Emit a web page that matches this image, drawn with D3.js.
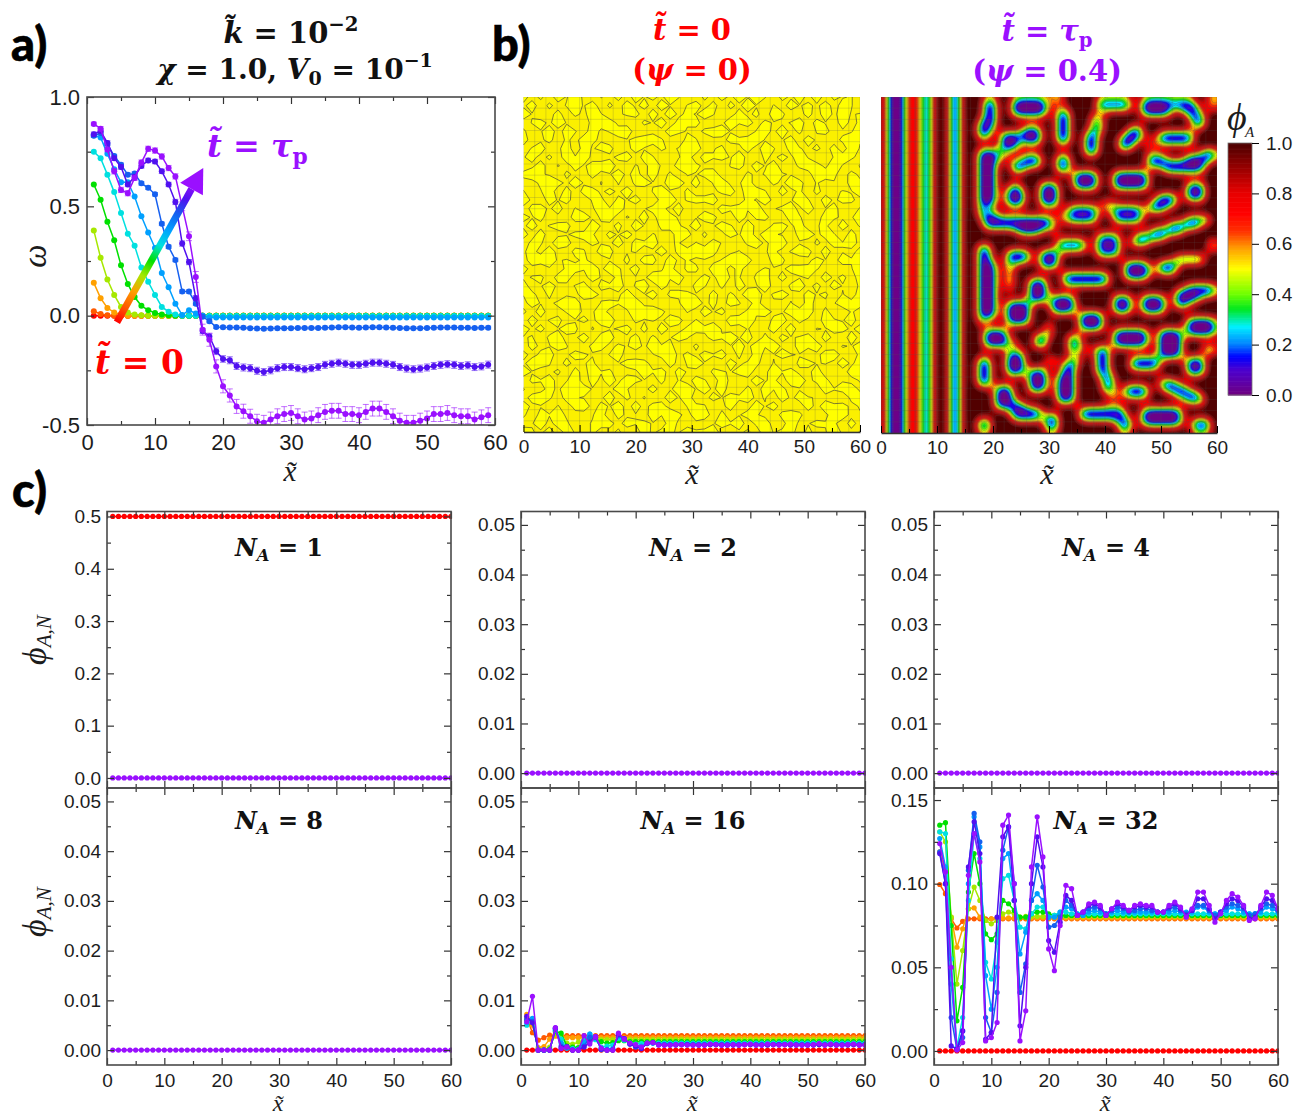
<!DOCTYPE html>
<html lang="en">
<head>
<meta charset="utf-8">
<title>Phase separation under a shear gradient</title>
<style>
  html, body { margin: 0; padding: 0; background: #fff; }
  svg { display: block; }
  text { font-family: "Liberation Sans", Arial, sans-serif; fill: #1c1c1c; }
  .tick text { font-family: "Liberation Sans", Arial, sans-serif; fill: #1c1c1c; }
  .math { font-family: "DejaVu Serif", serif; font-weight: bold; }
  .ital { font-family: "Liberation Serif", serif; font-style: italic; }
  .tag { font-family: Lato, sans-serif; font-weight: 900; font-size: 47px; fill: #000; stroke: #000; stroke-width: 0.6; }
</style>
</head>
<body>
<div id="chart"></div>
<script src="https://cdn.jsdelivr.net/npm/d3@7/dist/d3.min.js"></script>
<script>

// time steps, red (t = 0) to violet (t = tau_p)
var stepColors = ["#ff0000", "#ff5a00", "#ffa000", "#a6e800", "#00e000", "#00e0e0", "#00a0ff", "#1560f0", "#5010f0", "#9a10ff"];

var xA = [1,2,3,4,5,6,7,8,9,10,11,12,13,14,15,16,17,18,19,20,21,22,23,24,25,26,27,28,29,30,31,32,33,34,35,36,37,38,39,40,41,42,43,44,45,46,47,48,49,50,51,52,53,54,55,56,57,58,59];
var xC = [1,2,3,4,5,6,7,8,9,10,11,12,13,14,15,16,17,18,19,20,21,22,23,24,25,26,27,28,29,30,31,32,33,34,35,36,37,38,39,40,41,42,43,44,45,46,47,48,49,50,51,52,53,54,55,56,57,58,59,60];

// panel a, omega(x) at each time step
var omega0 = [0,0,0,0,0,0,0,0,0,0,0,0,0,0,0,0,0,0,0,0,0,0,0,0,0,0,0,0,0,0,0,0,0,0,0,0,0,0,0,0,0,0,0,0,0,0,0,0,0,0,0,0,0,0,0,0,0,0,0];
var omega1 = [.02,.008,.002,0,0,0,0,0,0,0,0,0,0,0,0,0,0,0,0,0,0,0,0,0,0,0,0,0,0,0,0,0,0,0,0,0,0,0,0,0,0,0,0,0,0,0,0,0,0,0,0,0,0,0,0,0,0,0,0];
var omega2 = [.15,.08,.035,.015,.005,0,0,0,0,0,0,0,0,0,0,0,0,0,0,0,0,0,0,0,0,0,0,0,0,0,0,0,0,0,0,0,0,0,0,0,0,0,0,0,0,0,0,0,0,0,0,0,0,0,0,0,0,0,0];
var omega3 = [.39,.265,.165,.095,.04,.015,.005,.002,0,0,0,0,0,0,0,0,0,0,0,0,0,0,0,0,0,0,0,0,0,0,0,0,0,0,0,0,0,0,0,0,0,0,0,0,0,0,0,0,0,0,0,0,0,0,0,0,0,0,0];
var omega4 = [.6,.53,.43,.345,.23,.145,.085,.045,.025,.012,.005,.002,0,0,0,0,0,0,0,0,0,0,0,0,0,0,0,0,0,0,0,0,0,0,0,0,0,0,0,0,0,0,0,0,0,0,0,0,0,0,0,0,0,0,0,0,0,0,0];
var omega5 = [.75,.72,.645,.565,.47,.375,.32,.22,.155,.095,.04,.018,.005,0,0,0,0,-.002,-.002,-.002,-.002,-.002,-.002,-.002,-.002,-.002,-.002,-.002,-.002,-.002,-.002,-.002,-.002,-.002,-.002,-.002,-.002,-.002,-.002,-.002,-.002,-.002,-.002,-.002,-.002,-.002,-.002,-.002,-.002,-.002,-.002,-.002,-.002,-.002,-.002,-.002,-.002,-.002,-.002];
var omega6 = [.825,.815,.74,.67,.61,.61,.545,.455,.38,.31,.195,.13,.055,.003,.025,.01,0,-.008,-.008,-.008,-.008,-.008,-.008,-.008,-.008,-.008,-.008,-.008,-.008,-.008,-.008,-.008,-.008,-.008,-.008,-.008,-.008,-.008,-.008,-.008,-.008,-.008,-.008,-.008,-.008,-.008,-.008,-.008,-.008,-.008,-.008,-.008,-.008,-.008,-.008,-.008,-.008,-.008,-.008];
var omega7 = [.823,.835,.785,.73,.69,.645,.65,.605,.585,.555,.42,.315,.255,.11,.11,.055,-.005,-.025,-.052,-.053,-.054,-.054,-.055,-.057,-.059,-.06,-.059,-.058,-.057,-.057,-.056,-.056,-.056,-.056,-.055,-.054,-.053,-.053,-.054,-.055,-.054,-.053,-.053,-.054,-.055,-.056,-.057,-.057,-.057,-.056,-.055,-.054,-.054,-.054,-.055,-.055,-.056,-.055,-.055];
var omega8 = [.83,.845,.79,.72,.68,.6,.635,.685,.71,.705,.66,.6,.52,.33,.245,.08,-.07,-.095,-.163,-.198,-.204,-.23,-.237,-.24,-.252,-.258,-.25,-.24,-.235,-.235,-.24,-.245,-.24,-.235,-.225,-.22,-.215,-.22,-.225,-.225,-.22,-.215,-.215,-.22,-.225,-.235,-.242,-.245,-.242,-.237,-.23,-.225,-.222,-.225,-.23,-.227,-.235,-.232,-.224];
var omega9 = [.877,.855,.76,.66,.575,.56,.63,.7,.763,.755,.728,.675,.637,.5,.363,.177,-.064,-.11,-.232,-.323,-.365,-.415,-.437,-.46,-.483,-.49,-.475,-.46,-.45,-.445,-.46,-.475,-.47,-.455,-.44,-.435,-.435,-.45,-.45,-.455,-.44,-.425,-.425,-.44,-.46,-.48,-.49,-.49,-.48,-.47,-.45,-.45,-.445,-.455,-.46,-.46,-.475,-.465,-.455];

// error bars of the last three steps (half widths)
var omegaErr7 = [.008,.008,.008,.008,.008,.008,.008,.008,.008,.008,.008,.008,.008,.008,.008,.008,.008,.008,.007,.007,.007,.007,.007,.007,.007,.007,.007,.007,.007,.007,.007,.007,.007,.007,.007,.007,.007,.007,.007,.007,.007,.007,.007,.007,.007,.007,.007,.007,.007,.007,.007,.007,.007,.007,.007,.007,.007,.007,.007];
var omegaErr8 = [.01,.01,.01,.01,.01,.01,.01,.01,.01,.01,.01,.01,.012,.012,.012,.012,.012,.012,.015,.015,.016,.016,.016,.016,.016,.016,.016,.016,.016,.016,.016,.016,.016,.016,.016,.016,.016,.016,.016,.016,.016,.016,.016,.016,.016,.016,.016,.016,.016,.016,.016,.016,.016,.016,.016,.016,.016,.016,.016];
var omegaErr9 = [.008,.01,.01,.012,.012,.012,.012,.012,.012,.012,.012,.012,.012,.02,.02,.025,.025,.03,.03,.03,.03,.032,.032,.032,.032,.034,.034,.034,.034,.034,.034,.034,.034,.034,.034,.034,.034,.034,.034,.034,.034,.034,.034,.034,.034,.034,.034,.034,.034,.034,.034,.034,.034,.034,.034,.034,.034,.034,.034];

// panels N_A = 1, 2, 4, 8
var phiHalf = [.5,.5,.5,.5,.5,.5,.5,.5,.5,.5,.5,.5,.5,.5,.5,.5,.5,.5,.5,.5,.5,.5,.5,.5,.5,.5,.5,.5,.5,.5,.5,.5,.5,.5,.5,.5,.5,.5,.5,.5,.5,.5,.5,.5,.5,.5,.5,.5,.5,.5,.5,.5,.5,.5,.5,.5,.5,.5,.5,.5];
var phiZero = [0,0,0,0,0,0,0,0,0,0,0,0,0,0,0,0,0,0,0,0,0,0,0,0,0,0,0,0,0,0,0,0,0,0,0,0,0,0,0,0,0,0,0,0,0,0,0,0,0,0,0,0,0,0,0,0,0,0,0,0];

// panel N_A = 16
var n16_1 = [.0065,.0035,.002,.0025,.003,.003,.0029,.0029,.0029,.0029,.0029,.0029,.0029,.0029,.0029,.0029,.0029,.0029,.0029,.0029,.0029,.0029,.0029,.0029,.0029,.0029,.0029,.0029,.0029,.0029,.0029,.0029,.0029,.0029,.0029,.0029,.0029,.0029,.0029,.0029,.0029,.0029,.0029,.0029,.0029,.0029,.0029,.0029,.0029,.0029,.0029,.0029,.0029,.0029,.0029,.0029,.0029,.0029,.0029,.0029];
var n16_2 = [.0072,.005,.0005,.0007,.0022,.0028,.0027,.0025,.0025,.0025,.0025,.0025,.0025,.0025,.0025,.0025,.0025,.0025,.0025,.0025,.0025,.0025,.0025,.0025,.0025,.0025,.0025,.0025,.0025,.0025,.0025,.0025,.0025,.0025,.0025,.0025,.0025,.0025,.0025,.0025,.0025,.0025,.0025,.0025,.0025,.0025,.0025,.0025,.0025,.0025,.0025,.0025,.0025,.0025,.0025,.0025,.0025,.0025,.0025,.0025];
var n16_3 = [.0065,.0055,.0002,0,.0006,.0034,.0026,.0014,.0012,.0016,.0021,.0023,.0023,.0021,.0021,.0021,.0021,.0021,.0021,.0021,.0021,.0021,.0021,.0021,.0021,.0021,.0021,.0021,.0021,.0021,.0021,.0021,.0021,.0021,.0021,.0021,.0021,.0021,.0021,.0021,.0021,.0021,.0021,.0021,.0021,.0021,.0021,.0021,.0021,.0021,.0021,.0021,.0021,.0021,.0021,.0021,.0021,.0021,.0021,.0021];
var n16_4 = [.006,.006,0,0,.0002,.0038,.0034,.0008,.0006,.0005,.0018,.0024,.0022,.0017,.0014,.0015,.0019,.0019,.0017,.0017,.0017,.0017,.0017,.0017,.0017,.0017,.0017,.0017,.0017,.0017,.0017,.0017,.0017,.0017,.0017,.0017,.0017,.0017,.0017,.0017,.0017,.0017,.0017,.0017,.0017,.0017,.0017,.0017,.0017,.0017,.0017,.0017,.0017,.0017,.0017,.0017,.0017,.0017,.0017,.0017];
var n16_5 = [.005,.0062,0,0,0,.004,.0022,.0004,.0003,.0002,.002,.0032,.0021,.0006,.0008,.001,.0024,.002,.0014,.0012,.0013,.0014,.0014,.0014,.0014,.0014,.0014,.0014,.0014,.0014,.0014,.0014,.0014,.0014,.0014,.0014,.0014,.0014,.0014,.0014,.0014,.0014,.0014,.0014,.0014,.0014,.0014,.0014,.0014,.0014,.0014,.0014,.0014,.0014,.0014,.0014,.0014,.0014,.0014,.0014];
var n16_6 = [.0055,.0064,0,0,0,.0042,.0014,.0004,.0001,.0001,.0016,.0032,.0024,.0003,.0002,.0003,.0028,.0022,.0013,.0008,.0008,.0013,.0014,.0012,.0012,.0012,.0012,.0012,.0012,.0012,.0012,.0012,.0012,.0012,.0012,.0012,.0012,.0012,.0012,.0012,.0012,.0012,.0012,.0012,.0012,.0012,.0012,.0012,.0012,.0012,.0012,.0012,.0012,.0012,.0012,.0012,.0012,.0012,.0012,.0012];
var n16_7 = [.0062,.0058,0,0,0,.0044,.0008,.0006,0,0,.0008,.0026,.0026,.0001,0,.0001,.003,.0023,.0012,.0006,.0004,.0013,.0015,.0011,.0011,.0011,.0011,.0011,.0011,.0011,.0011,.0011,.0011,.0011,.0011,.0011,.0011,.0011,.0011,.0011,.0011,.0011,.0011,.0011,.0011,.0011,.0011,.0011,.0011,.0011,.0011,.0011,.0011,.0011,.0011,.0011,.0011,.0011,.0011,.0011];
var n16_8 = [.0068,.0055,0,0,0,.0044,.0005,.0007,0,0,.0006,.0016,.0027,.0002,0,0,.0032,.0023,.0012,.0008,.0003,.0014,.0015,.0011,.001,.001,.001,.0011,.0011,.001,.001,.001,.0011,.0011,.001,.001,.001,.001,.0011,.0011,.001,.001,.001,.0011,.0011,.0011,.001,.001,.001,.001,.001,.0011,.001,.0011,.001,.001,.001,.0011,.001,.001];
var n16_9 = [.0057,.0108,0,0,0,.0045,.0003,.0006,0,0,.0029,.0012,.0027,.0004,0,0,.0034,.0022,.0014,.0011,.0006,.0014,.0015,.001,.001,.001,.0011,.0011,.001,.001,.001,.001,.0012,.0011,.001,.001,.0011,.001,.0011,.0012,.001,.001,.0012,.0011,.001,.0011,.0012,.001,.001,.001,.0011,.0013,.001,.0012,.001,.001,.0011,.0012,.001,.001];

// panel N_A = 32
var n32_1 = [.0995,.094,.079,.0735,.0775,.079,.079,.079,.079,.079,.079,.079,.079,.079,.079,.079,.079,.079,.079,.079,.079,.079,.079,.079,.079,.079,.079,.079,.079,.079,.079,.079,.079,.079,.079,.079,.079,.079,.079,.079,.079,.079,.079,.079,.079,.079,.079,.079,.079,.079,.079,.079,.079,.079,.079,.079,.079,.079,.079,.079];
var n32_2 = [.119,.108,.08,.062,.073,.085,.0855,.08,.078,.079,.0795,.0795,.0795,.0795,.0795,.0795,.0795,.0795,.0795,.0795,.0795,.0795,.0795,.0795,.0795,.0795,.0795,.0795,.0795,.0795,.0795,.0795,.0795,.0795,.0795,.0795,.0795,.0795,.0795,.0795,.0795,.0795,.0795,.0795,.0795,.0795,.0795,.0795,.0795,.0795,.0795,.0795,.0795,.0795,.0795,.0795,.0795,.0795,.0795,.0795];
var n32_3 = [.131,.125,.08,.04,.06,.085,.098,.09,.078,.076,.078,.082,.083,.082,.08,.0805,.0805,.0805,.0805,.0805,.0805,.0805,.0805,.0805,.0805,.0805,.0805,.0805,.0805,.0805,.0805,.0805,.0805,.0805,.0805,.0805,.0805,.0805,.0805,.0805,.0805,.0805,.0805,.0805,.0805,.0805,.0805,.0805,.0805,.0805,.0805,.0805,.0805,.0805,.0805,.0805,.0805,.0805,.0805,.0805];
var n32_4 = [.135,.1365,.075,.018,.038,.095,.118,.1,.07,.0665,.07,.09,.088,.084,.08,.08,.082,.083,.083,.082,.081,.081,.081,.081,.081,.081,.081,.081,.081,.081,.081,.081,.081,.081,.081,.081,.081,.081,.081,.081,.081,.081,.081,.081,.081,.081,.081,.081,.081,.081,.081,.081,.081,.081,.081,.081,.081,.081,.081,.081];
var n32_5 = [.131,.13,.055,.002,.02,.09,.13,.115,.053,.043,.065,.103,.105,.09,.074,.073,.082,.086,.086,.08,.081,.083,.083,.082,.082,.082,.082,.082,.082,.082,.082,.082,.082,.082,.082,.082,.082,.082,.082,.082,.082,.082,.082,.082,.082,.082,.082,.082,.082,.082,.082,.082,.082,.082,.082,.082,.082,.082,.082,.082];
var n32_6 = [.127,.11,.04,.001,.012,.1,.14,.122,.045,.025,.05,.115,.118,.09,.058,.071,.09,.094,.09,.08,.08,.083,.086,.085,.082,.081,.083,.084,.083,.082,.083,.084,.083,.083,.083,.083,.083,.083,.083,.083,.083,.084,.083,.083,.083,.086,.086,.083,.082,.083,.084,.086,.085,.083,.082,.082,.083,.086,.085,.083];
var n32_7 = [.119,.1,.02,.001,.008,.108,.142,.125,.02,.011,.035,.12,.134,.1,.035,.052,.09,.111,.098,.074,.075,.08,.09,.087,.081,.083,.085,.086,.085,.082,.084,.086,.085,.083,.084,.085,.085,.084,.083,.083,.085,.086,.084,.082,.084,.087,.087,.084,.081,.083,.086,.088,.087,.085,.081,.082,.085,.088,.087,.084];
var n32_8 = [.118,.1,.003,.001,.012,.11,.137,.118,.007,.011,.08,.128,.134,.09,.015,.05,.1,.128,.11,.066,.059,.077,.093,.09,.081,.083,.087,.088,.086,.081,.085,.088,.086,.084,.086,.087,.086,.086,.083,.083,.086,.088,.085,.081,.084,.091,.091,.085,.079,.083,.088,.091,.09,.086,.079,.08,.086,.091,.09,.085];
var n32_9 = [.124,.107,.05,.0005,.005,.105,.13,.113,.006,.008,.017,.135,.141,.1,.006,.024,.11,.14,.116,.061,.048,.075,.099,.097,.081,.083,.088,.089,.087,.081,.085,.089,.087,.084,.087,.088,.087,.087,.083,.083,.087,.089,.086,.08,.085,.095,.095,.087,.077,.082,.09,.094,.092,.087,.078,.079,.087,.095,.093,.085];

var ticksA = [0, 10, 20, 30, 40, 50, 60];
var ticksOmega = [-0.5, 0, 0.5, 1];
var ticksPhi1 = [0, 0.1, 0.2, 0.3, 0.4, 0.5];
var ticksPhiSmall = [0, 0.01, 0.02, 0.03, 0.04, 0.05];
var ticksPhi32 = [0, 0.05, 0.1, 0.15];
var ticksBar = [0, 0.2, 0.4, 0.6, 0.8, 1];

// panel b right, t = tau_p. Vertical stripes near the wall, value at each column (x 0..17)
var stripeColumns = [8,8,0,0,0,7,7,7,1,1,9,9,9,0,0,9,9,9];

// purple domains: [rowFrom, rowTo, colFrom, colTo, level 0-9]
var domains = [
  [1,5,19,20,0],[5,7,18,19,0],[1,3,24,29,0],[3,8,32,33,0],[1,2,39,44,1],[4,6,38,39,2],[7,10,37,38,0],
  [11,13,32,33,0],[10,19,18,20,0],[19,21,18,18,2],[7,9,22,24,0],[7,7,25,25,2],[6,8,26,28,0],
  [12,13,24,25,0],[11,12,26,28,0],[16,16,24,24,0],[17,19,23,25,0],[16,19,29,31,0],[14,16,35,38,0],
  [6,6,45,46,0],[7,7,44,46,0],[8,8,43,45,0],[9,9,43,44,0],[14,16,42,47,0],[1,3,47,51,0],[1,1,52,55,1],
  [2,2,53,56,0],[3,3,55,56,0],[4,5,56,57,0],[7,8,50,55,0],[11,12,48,50,0],[12,13,51,54,0],[11,13,55,57,0],
  [18,18,50,52,0],[19,19,49,52,0],[20,20,48,50,0],[16,18,55,57,0],[10,11,58,59,0],[20,22,34,38,1],
  [20,22,42,46,1],[22,22,55,58,0],[23,23,52,56,0],[24,24,49,53,0],[25,25,46,50,0],[26,26,45,47,1],
  [21,21,18,20,1],[22,23,19,30,0],[24,24,25,28,0],[25,28,39,42,1],[26,27,32,36,1],[27,29,18,19,0],
  [30,39,18,20,0],[28,29,23,26,0],[28,30,29,31,0],[29,29,53,57,0],[30,34,23,23,2],[33,36,27,29,0],
  [37,40,23,26,0],[36,38,31,34,0],[32,33,33,40,0],[39,41,36,39,0],[36,38,42,44,0],[30,32,44,47,0],
  [36,38,47,50,0],[30,31,50,52,0],[34,34,55,59,1],[35,35,53,59,0],[36,36,53,56,0],[37,37,53,54,0],
  [40,42,55,59,0],[42,44,42,47,0],[42,46,50,53,0],[42,44,19,22,0],[41,42,30,30,2],[43,44,28,29,0],
  [43,45,34,35,1],[47,47,34,35,1],[48,49,33,34,0],[50,54,32,34,0],[45,49,39,40,0],[50,52,40,41,1],
  [47,48,45,49,0],[47,49,55,57,0],[45,45,58,59,0],[47,51,18,19,0],[46,49,23,25,0],[49,52,27,29,0],
  [52,55,21,23,0],[55,55,22,25,0],[56,57,24,28,0],[52,53,44,47,0],[51,51,50,52,0],[52,52,51,54,0],
  [53,53,53,56,0],[54,54,55,57,0],[56,57,36,43,0],[56,58,47,53,0],[58,59,56,58,0],[57,59,30,31,0],
  [58,59,18,19,0],[58,59,43,44,0],[0,2,59,59,2],[26,27,59,59,2],
  // yellow and orange junctions
  [10,11,21,22,4],[7,7,16,16,4],[0,1,31,32,4],[19,20,40,41,4],[8,9,48,48,4],[21,22,32,33,5],
  [24,24,31,31,4],[47,47,31,31,4],[45,45,37,37,4],[53,54,41,42,5],[55,55,16,17,3],[31,31,48,48,4],
  [40,40,18,18,3],[44,44,23,24,3],[47,47,30,30,3]
];

// panel b left, t = 0. phi around 0.5 on a coarse grid, digit 0-9 (4.5 is the contour)
var noiseRows = [
  "7261849305 2718463950 1627384950 7382916450",
  "3816257490 6193728405 8271639405 1946382750",
  "9402716385 0457182936 4950273618 6027193845",
  "1573940268 8320649175 7103958264 3581740926",
  "6048275193 5791032864 2689410573 9260571348",
  "8137062954 1346985207 5032768941 4719302685",
  "2590381746 7028416359 9146037285 0853627194",
  "4726195830 3691750248 1857492063 7394015862",
  "0381527469 9205374186 6320581947 2168739405",
  "7954063182 4837291605 4791206358 5402986173",
  "1268739405 0516843792 8059347216 3971524086",
  "5049172683 7392058416 2436819750 8260713549",
  "9317480256 1648207935 7590126483 1485093762",
  "2683905147 5920476381 0318675924 6739248015",
  "6470218935 8153729640 4862093571 0952186347",
  "3825671094 2709416853 9147528306 7381460925",
  "8190346752 6482053197 1603749285 4269375081",
  "0752981364 3917682450 5284016937 9140628573",
  "4639207518 7045139268 8971350246 2587091436",
  "1987453620 4261870935 3425968017 6013742859",
  "7204168593 9538024716 6098271354 3876520149",
  "3561790284 1704396582 2739450681 8145093627",
  "9048325716 6825917340 7516083492 0692718435",
  "5716042983 0392481657 4081629735 9327460518",
  "2843679105 7569320148 9362751804 1508234976",
  "6190258347 3147896205 1847026593 4789162053",
  "0925714638 8206453971 5230987416 7263095481",
  "8371496052 4581709326 8694215037 2910546738",
  "4506823917 9037162485 0375948162 6458173092",
  "1734950268 2648395701 6102473859 3096821547",
  "7269038541 5810247936 3758160924 8540379216",
  "3985172460 1479630825 9421836705 0167452938",
  "9413607285 6023958174 2065479138 5732904186",
  "0658249173 8396417052 7518302946 1983670425",
  "5127396840 3750281469 4839016275 6240185793",
  "2796085413 9162503748 1274968350 9375421068",
  "8340517926 4918276305 6503712849 0418296735",
  "6075932148 0734195862 8916247530 7561038924",
  "1492860357 7285640931 3047591682 2934756081",
  "9538174062 2601837549 5782036194 6807149325"
];

var width = 1296, height = 1117;
var svg = d3.select("#chart").append("svg").attr("width", width).attr("height", height);
var defs = svg.append("defs");

var clipCount = 0;

// draws ticks pointing inward on all four sides plus the frame
function frame(box, x, y, xMajor, xMinor, yMajor, yMinor, yFormat, fontSize, yPad) {
  var g = svg.append("g").attr("class", "frame");
  function ax(gen, tx, ty, major, minor, labels, pad) {
    var a = g.append("g").attr("transform", "translate(" + tx + "," + ty + ")");
    a.call(gen.tickValues(minor).tickSizeInner(-4).tickSizeOuter(0).tickFormat(""));
    a.selectAll(".domain").remove();
    var b = g.append("g").attr("transform", "translate(" + tx + "," + ty + ")");
    b.call(gen.tickValues(major).tickSizeInner(-7).tickSizeOuter(0).tickPadding(pad).tickFormat(labels || ""));
    b.selectAll(".domain").remove();
    g.selectAll("line").attr("stroke", "#333").attr("stroke-width", 1.2);
    b.selectAll("text").style("font-size", fontSize + "px");
  }
  ax(d3.axisBottom(x), 0, box.y1, xMajor, xMinor, d3.format("d"), 9);
  ax(d3.axisLeft(y), box.x0, 0, yMajor, yMinor, yFormat, yPad);
  ax(d3.axisRight(y), box.x1, 0, yMajor, yMinor, null, 9);
  ax(d3.axisTop(x), 0, box.y0, xMajor, xMinor, null, 9);
  g.append("rect").attr("x", box.x0).attr("y", box.y0).attr("width", box.x1 - box.x0).attr("height", box.y1 - box.y0)
    .attr("fill", "none").attr("stroke", "#4a4a4a").attr("stroke-width", 1.6);
  return g;
}

function plotSeries(box, xs, list, colors, x, y, radius, errs) {
  var id = "clip" + (clipCount++);
  defs.append("clipPath").attr("id", id).append("rect")
    .attr("x", box.x0).attr("y", box.y0).attr("width", box.x1 - box.x0 + 1).attr("height", box.y1 - box.y0);
  var g = svg.append("g").attr("clip-path", "url(#" + id + ")");
  var line = d3.line().x(function(d, i) { return x(xs[i]); }).y(function(d) { return y(d); });
  list.forEach(function(vals, k) {
    var color = colors[k];
    if (errs && errs[k]) {
      var e = g.append("g").attr("stroke", color).attr("stroke-opacity", 0.6).attr("stroke-width", 1);
      vals.forEach(function(v, i) {
        var px = x(xs[i]), hi = y(v + errs[k][i]), lo = y(v - errs[k][i]);
        e.append("line").attr("x1", px).attr("x2", px).attr("y1", hi).attr("y2", lo);
        e.append("line").attr("x1", px - 3).attr("x2", px + 3).attr("y1", hi).attr("y2", hi);
        e.append("line").attr("x1", px - 3).attr("x2", px + 3).attr("y1", lo).attr("y2", lo);
      });
    }
    g.append("path").datum(vals).attr("d", line).attr("fill", "none").attr("stroke", color).attr("stroke-width", 1.5);
    g.selectAll(null).data(vals).enter().append("circle")
      .attr("cx", function(d, i) { return x(xs[i]); })
      .attr("cy", function(d) { return y(d); })
      .attr("r", radius).attr("fill", color);
  });
}

// text made of runs: {t, i: italic, up, down}
function mathText(cx, cy, runs, size, color, anchor) {
  var t = svg.append("text").attr("class", "math").attr("x", cx).attr("y", cy)
    .attr("text-anchor", anchor || "middle").style("font-size", size + "px").style("fill", color);
  var shift = 0;
  runs.forEach(function(r) {
    var s = t.append("tspan").text(r.t);
    if (r.i) s.style("font-style", "italic");
    var target = r.up ? -size * 0.42 : (r.down ? size * 0.22 : 0);
    s.attr("dy", target - shift);
    shift = target;
    if (r.up || r.down) s.style("font-size", (size * 0.68) + "px");
  });
  return t;
}

function xTilde(cx, cy, size) {
  svg.append("text").attr("class", "ital").attr("x", cx).attr("y", cy).attr("text-anchor", "middle")
    .style("font-size", size + "px").text("x\u0303");
}

function yTitle(cx, cy, main, sub, size) {
  var t = svg.append("text").attr("class", "ital")
    .attr("transform", "translate(" + cx + "," + cy + ") rotate(-90)")
    .attr("text-anchor", "middle").style("font-size", size + "px");
  t.append("tspan").text(main);
  if (sub) t.append("tspan").attr("dy", 5).style("font-size", (size * 0.62) + "px").text(sub);
}

// ---------- panel a ----------
var boxA = {x0: 87, x1: 495, y0: 97, y1: 425};
var xScaleA = d3.scaleLinear().domain([0, 60]).range([boxA.x0, boxA.x1]);
var yScaleA = d3.scaleLinear().domain([-0.5, 1]).range([boxA.y1, boxA.y0]);

plotSeries(boxA, xA, [omega0, omega1, omega2, omega3, omega4, omega5, omega6, omega7, omega8, omega9], stepColors,
  xScaleA, yScaleA, 3, [null, null, null, null, null, null, null, omegaErr7, omegaErr8, omegaErr9]);
frame(boxA, xScaleA, yScaleA, ticksA, [5, 15, 25, 35, 45, 55], ticksOmega, [-0.25, 0.25, 0.75],
  function(v) { return d3.format(".1f")(v).replace("\u2212", "-"); }, 22, 7);

// rainbow arrow in panel a
var tail = [xScaleA(4.4), yScaleA(-0.03)], tip = [xScaleA(17.1), yScaleA(0.675)];
var grad = defs.append("linearGradient").attr("id", "arrowRainbow").attr("gradientUnits", "userSpaceOnUse")
  .attr("x1", tail[0]).attr("y1", tail[1]).attr("x2", tip[0]).attr("y2", tip[1]);
stepColors.forEach(function(c, i) {
  grad.append("stop").attr("offset", (i / (stepColors.length - 1)) * 0.9).attr("stop-color", c);
});
var ang = Math.atan2(tip[1] - tail[1], tip[0] - tail[0]);
var neck = [tip[0] - 24 * Math.cos(ang), tip[1] - 24 * Math.sin(ang)];
svg.append("line").attr("x1", tail[0]).attr("y1", tail[1]).attr("x2", neck[0]).attr("y2", neck[1])
  .attr("stroke", "url(#arrowRainbow)").attr("stroke-width", 7);
svg.append("path")
  .attr("d", "M" + tip + "L" + [neck[0] + 13 * Math.sin(ang), neck[1] - 13 * Math.cos(ang)] + "L" + [neck[0] - 13 * Math.sin(ang), neck[1] + 13 * Math.cos(ang)] + "Z")
  .attr("fill", stepColors[9]);

mathText(207, 157, [{t: "t\u0303", i: true}, {t: " = "}, {t: "\u03C4", i: true}, {t: "p", down: true}], 32, "#9a10ff", "start");
mathText(95, 374, [{t: "t\u0303", i: true}, {t: " = 0"}], 33, "#ff0000", "start");

yTitle(46, 256, "\u03C9", null, 33);
xTilde(290, 481, 29);

// ---------- panel b ----------
var boxB1 = {x0: 523.5, x1: 860, y0: 97, y1: 432};
var boxB2 = {x0: 881, x1: 1217, y0: 97, y1: 433};

var cmap = d3.scaleLinear()
  .domain([0, 0.1, 0.15, 0.2, 0.27, 0.34, 0.4, 0.5, 0.58, 0.65, 0.72, 0.8, 0.88, 1])
  .range(["#700080", "#4a00d0", "#0000ff", "#0080ff", "#00f0ff", "#00e820", "#70ff00", "#ffff00", "#ffa000", "#ff3000", "#ff0000", "#e80000", "#a80000", "#4a0000"]);

function heatPanel(box, values, n, fillLevels, lineLevels, baseColor, fillOf, lineColor, lineWidth) {
  var id = "clip" + (clipCount++);
  defs.append("clipPath").attr("id", id).append("rect")
    .attr("x", box.x0).attr("y", box.y0).attr("width", box.x1 - box.x0).attr("height", box.y1 - box.y0);
  var g = svg.append("g").attr("clip-path", "url(#" + id + ")");
  g.append("rect").attr("x", box.x0).attr("y", box.y0).attr("width", box.x1 - box.x0).attr("height", box.y1 - box.y0).attr("fill", baseColor);

  var px = d3.scaleLinear().domain([0.5, n - 0.5]).range([box.x0, box.x1]);
  var py = d3.scaleLinear().domain([0.5, n - 0.5]).range([box.y0, box.y1]);
  var path = d3.geoPath(d3.geoTransform({point: function(a, b) { this.stream.point(px(a), py(b)); }}));
  var fillContours = d3.contours().size([n, n]).thresholds(fillLevels)(values);
  g.selectAll(null).data(fillContours).enter().append("path").attr("d", path)
    .attr("fill", function(d) { return fillOf(d.value); });
  var lineContours = d3.contours().size([n, n]).thresholds(lineLevels)(values);
  g.selectAll(null).data(lineContours).enter().append("path").attr("d", path)
    .attr("fill", "none").attr("stroke", lineColor).attr("stroke-width", lineWidth);

  // simulation mesh, every 2 units
  var mesh = g.append("g").attr("stroke", "#555").attr("stroke-opacity", 0.2).attr("stroke-width", 1);
  var mx = d3.scaleLinear().domain([0, 60]).range([box.x0, box.x1]);
  var my = d3.scaleLinear().domain([0, 60]).range([box.y0, box.y1]);
  d3.range(0, 61, 2).forEach(function(v) {
    mesh.append("line").attr("x1", mx(v)).attr("x2", mx(v)).attr("y1", box.y0).attr("y2", box.y1);
    mesh.append("line").attr("y1", my(v)).attr("y2", my(v)).attr("x1", box.x0).attr("x2", box.x1);
  });

  // bottom axis only
  var ag = svg.append("g").attr("transform", "translate(0," + box.y1 + ")");
  ag.call(d3.axisBottom(mx).tickValues([5, 15, 25, 35, 45, 55]).tickSizeInner(-4).tickSizeOuter(0).tickFormat(""));
  ag.selectAll(".domain").remove();
  var ag2 = svg.append("g").attr("transform", "translate(0," + box.y1 + ")");
  ag2.call(d3.axisBottom(mx).tickValues(ticksA).tickSizeInner(-7).tickSizeOuter(0).tickPadding(8).tickFormat(d3.format("d")));
  ag2.select(".domain").attr("stroke", "#333").attr("stroke-width", 1.5);
  ag2.selectAll("text").style("font-size", "19px");
}

var noise = [];
noiseRows.forEach(function(r) {
  r.replace(/ /g, "").split("").forEach(function(ch) { noise.push(+ch / 9); });
});
heatPanel(boxB1, noise, 40, [0.5], [0.5], "#fbf000", function() { return "#ffff00"; }, "#55553a", 0.75);

// build the tau_p field from the stripes and the domains, then soften it on a finer grid
var nField = 180, up = nField / 60;
var fine = new Float64Array(nField * nField);
function fieldValue(r, c) {
  if (c < stripeColumns.length - 0.5) return stripeColumns[Math.round(c)];
  var v = 9;
  domains.forEach(function(d) {
    if (r >= d[0] - 0.78 && r <= d[1] + 0.78 && c >= d[2] - 0.78 && c <= d[3] + 0.78) v = Math.min(v, d[4]);
  });
  return v;
}
for (var i = 0; i < nField; i++) {
  for (var j = 0; j < nField; j++) {
    fine[i * nField + j] = fieldValue((i + 0.5) / up, (j + 0.5) / up) / 9;
  }
}
d3.blur2({data: fine, width: nField, height: nField}, 2.2);
// steepen the blurred edge so the rainbow ring stays thin
for (var q = 0; q < fine.length; q++) fine[q] = Math.max(0, Math.min(1, (fine[q] - 0.1) / 0.82));

heatPanel(boxB2, fine, nField, d3.range(0, 1, 0.02), d3.range(0.05, 1, 0.05), cmap(0),
  function(v) { return cmap(v + 0.01); }, "rgba(75,75,75,0.42)", 0.7);

mathText(692, 40, [{t: "t\u0303", i: true}, {t: " = 0"}], 29, "#ff0000");
mathText(692, 80, [{t: "("}, {t: "\u03C8", i: true}, {t: " = 0)"}], 29, "#ff0000");
mathText(1047, 41, [{t: "t\u0303", i: true}, {t: " = "}, {t: "\u03C4", i: true}, {t: "p", down: true}], 29, "#9a10ff");
mathText(1047, 81, [{t: "("}, {t: "\u03C8", i: true}, {t: " = 0.4)"}], 29, "#9a10ff");
xTilde(692, 484, 30);
xTilde(1047, 484, 30);

// colour bar
var barY = d3.scaleLinear().domain([0, 1]).range([395, 143]);
var barG = svg.append("g");
d3.range(0, 1, 0.005).forEach(function(v) {
  barG.append("rect").attr("x", 1228).attr("width", 24).attr("y", barY(v + 0.005)).attr("height", barY(v) - barY(v + 0.005) + 0.6)
    .attr("fill", cmap(v));
});
barG.append("rect").attr("x", 1228).attr("width", 24).attr("y", 143).attr("height", 252).attr("fill", "none").attr("stroke", "#777").attr("stroke-width", 0.8);
var barAxis = svg.append("g").attr("transform", "translate(1252,0)")
  .call(d3.axisRight(barY).tickValues(ticksBar).tickSizeInner(7).tickSizeOuter(0).tickPadding(7).tickFormat(d3.format(".1f")));
barAxis.select(".domain").remove();
barAxis.selectAll("text").style("font-size", "19px");
svg.append("text").attr("class", "ital").attr("x", 1227).attr("y", 130).style("font-size", "38px").text("\u03D5");
svg.append("text").attr("class", "ital").attr("x", 1245).attr("y", 137).style("font-size", "15px").text("A");

// ---------- panel c ----------
var colX = [[107, 451], [521, 865], [934, 1278]];
var rowY = [[511.5, 788], [788, 1065]];
var smallDomainTop = [-0.003, 0.0527];

var cPanels = [
  {title: "1", col: 0, row: 0, domain: [-0.0192, 0.5095], major: ticksPhi1, minor: [0.05, 0.15, 0.25, 0.35, 0.45], fmt: ".1f", series: [phiHalf, phiZero], colors: ["#ff0000", "#9a10ff"]},
  {title: "2", col: 1, row: 0, domain: smallDomainTop, major: ticksPhiSmall, minor: [0.005, 0.015, 0.025, 0.035, 0.045], fmt: ".2f", series: [phiHalf, phiZero], colors: ["#ff0000", "#9a10ff"]},
  {title: "4", col: 2, row: 0, domain: smallDomainTop, major: ticksPhiSmall, minor: [0.005, 0.015, 0.025, 0.035, 0.045], fmt: ".2f", series: [phiHalf, phiZero], colors: ["#ff0000", "#9a10ff"]},
  {title: "8", col: 0, row: 1, domain: smallDomainTop, major: ticksPhiSmall, minor: [0.005, 0.015, 0.025, 0.035, 0.045], fmt: ".2f", series: [phiHalf, phiZero], colors: ["#ff0000", "#9a10ff"]},
  {title: "16", col: 1, row: 1, domain: smallDomainTop, major: ticksPhiSmall, minor: [0.005, 0.015, 0.025, 0.035, 0.045], fmt: ".2f",
    series: [phiZero, n16_1, n16_2, n16_3, n16_4, n16_5, n16_6, n16_7, n16_8, n16_9], colors: stepColors},
  {title: "32", col: 2, row: 1, domain: [-0.0084, 0.1572], major: ticksPhi32, minor: [0.025, 0.075, 0.125], fmt: ".2f",
    series: [phiZero, n32_1, n32_2, n32_3, n32_4, n32_5, n32_6, n32_7, n32_8, n32_9], colors: stepColors}
];

cPanels.forEach(function(p) {
  var box = {x0: colX[p.col][0], x1: colX[p.col][1], y0: rowY[p.row][0], y1: rowY[p.row][1]};
  var x = d3.scaleLinear().domain([0, 60]).range([box.x0, box.x1]);
  var y = d3.scaleLinear().domain(p.domain).range([box.y1, box.y0]);
  plotSeries(box, xC, p.series, p.colors, x, y, 2.6);
  var f = frame(box, x, y, ticksA, [5, 15, 25, 35, 45, 55], p.major, p.minor, d3.format(p.fmt), 19, 6);
  if (p.row === 0) f.selectAll(".tick text").filter(function() { return this.getAttribute("dy") === "0.71em"; }).remove();
  var cx = (box.x0 + box.x1) / 2;
  mathText(cx, box.y0 + (p.row === 0 ? 44.5 : 41), [{t: "N", i: true}, {t: "A", i: true, down: true}, {t: " = " + p.title}], 24, "#111");
});

yTitle(46, 640, "\u03D5", "A,N", 34);
yTitle(46, 912, "\u03D5", "A,N", 34);
xTilde(278, 1111, 24);
xTilde(692, 1111, 24);
xTilde(1105, 1111, 24);

// titles of panel a
mathText(291, 43, [{t: "k\u0303", i: true}, {t: " = 10"}, {t: "\u22122", up: true}], 29, "#111");
mathText(295, 79, [{t: "\u03C7", i: true}, {t: " = 1.0, "}, {t: "V", i: true}, {t: "0", down: true}, {t: " = 10"}, {t: "\u22121", up: true}], 28, "#111");

// panel tags
svg.append("text").attr("class", "tag").attr("x", 11).attr("y", 61).text("a)");
svg.append("text").attr("class", "tag").attr("x", 492).attr("y", 61).text("b)");
svg.append("text").attr("class", "tag").attr("x", 12).attr("y", 507).text("c)");

</script>
</body>
</html>
